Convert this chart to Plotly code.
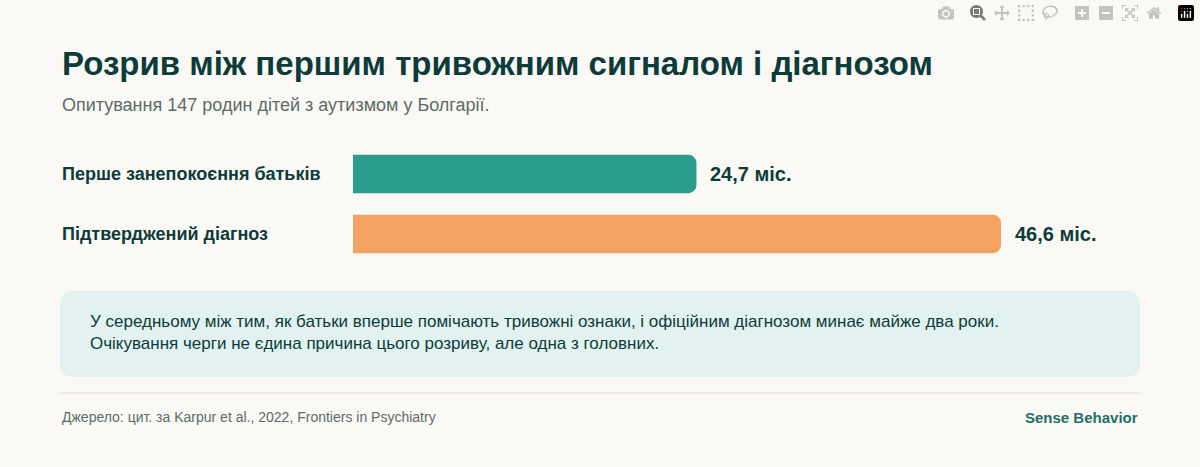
import plotly.graph_objects as go

# data
categories = ["Перше занепокоєння батьків", "Підтверджений діагноз"]
values = [24.7, 46.6]
value_labels = ["24,7 міс.", "46,6 міс."]
colors = ["#2a9d8f", "#f4a261"]

W, H = 1200, 467
dark = "#0d3b3a"


def py(px):
    return 1 - px / H


def pxx(px):
    return px / W


fig = go.Figure()
ypos = [1, 0]
fig.add_trace(go.Bar(
    x=values, y=ypos, orientation="h", width=0.64,
    marker=dict(color=colors, cornerradius=8, line=dict(width=0)),
    hoverinfo="skip",
))

ann = []
for yv, cat, v, lab in zip(ypos, categories, values, value_labels):
    ann.append(dict(x=pxx(60), xref="paper", y=yv, yref="y", text=f"<b>{cat}</b>",
                    showarrow=False, xanchor="left", font=dict(size=18, color=dark)))
    ann.append(dict(x=v, xref="x", y=yv, yref="y", text=f"<b>{lab}</b>", xshift=12,
                    showarrow=False, xanchor="left", font=dict(size=20, color=dark)))

ann += [
    dict(x=pxx(60), y=py(63), text="<b>Розрив між першим тривожним сигналом і діагнозом</b>",
         font=dict(size=33, color=dark)),
    dict(x=pxx(60), y=py(105), text="Опитування 147 родин дітей з аутизмом у Болгарії.",
         font=dict(size=18, color="#5b6b69")),
    dict(x=pxx(88), y=py(332),
         text="У середньому між тим, як батьки вперше помічають тривожні ознаки, і офіційним діагнозом минає майже два роки.<br>"
              "Очікування черги не єдина причина цього розриву, але одна з головних.",
         font=dict(size=17, color=dark), align="left"),
    dict(x=pxx(60), y=py(417), text="Джерело: цит. за Karpur et al., 2022, Frontiers in Psychiatry",
         font=dict(size=14, color="#5b6b69")),
    dict(x=pxx(1140), y=py(417), text="<b>Sense Behavior</b>", xanchor="right",
         font=dict(size=15, color="#1f6f66")),
]
for a in ann[-5:]:
    a.update(xref="paper", yref="paper", showarrow=False, yanchor="middle")
    a.setdefault("xanchor", "left")

# rounded callout box
x0, x1, y0, y1, r = pxx(60), pxx(1140), py(377), py(291), 14
rx, ry = r / W, r / H
path = (f"M {x0+rx},{y0} L {x1-rx},{y0} Q {x1},{y0} {x1},{y0+ry} L {x1},{y1-ry} "
        f"Q {x1},{y1} {x1-rx},{y1} L {x0+rx},{y1} Q {x0},{y1} {x0},{y1-ry} "
        f"L {x0},{y0+ry} Q {x0},{y0} {x0+rx},{y0} Z")

scale = (1001 - 353) / 46.6
fig.update_layout(
    width=W, height=H, margin=dict(l=0, r=0, t=0, b=0),
    paper_bgcolor="#fbf9f5", plot_bgcolor="rgba(0,0,0,0)",
    font=dict(family="Liberation Sans, Arial, sans-serif"),
    showlegend=False, annotations=ann,
    xaxis=dict(domain=[pxx(353), pxx(1140)], range=[0, (1140 - 353) / scale],
               visible=False, fixedrange=True),
    yaxis=dict(domain=[py(264), py(144)], range=[-0.5, 1.5], visible=False),
    shapes=[
        dict(type="path", path=path, xref="paper", yref="paper",
             fillcolor="#e2f2f0", line=dict(width=0), layer="below"),
        dict(type="line", xref="paper", yref="paper", x0=x0, x1=x1, y0=py(393), y1=py(393),
             line=dict(color="#ddd8d0", width=1)),
    ],
)

fig.write_html("out.html")

# drop the default page margin so the figure fills the window
with open("out.html", encoding="utf-8") as f:
    html = f.read()
html = html.replace("<body>", '<body style="margin:0;background:#fbf9f5">', 1)
with open("out.html", "w", encoding="utf-8") as f:
    f.write(html)
